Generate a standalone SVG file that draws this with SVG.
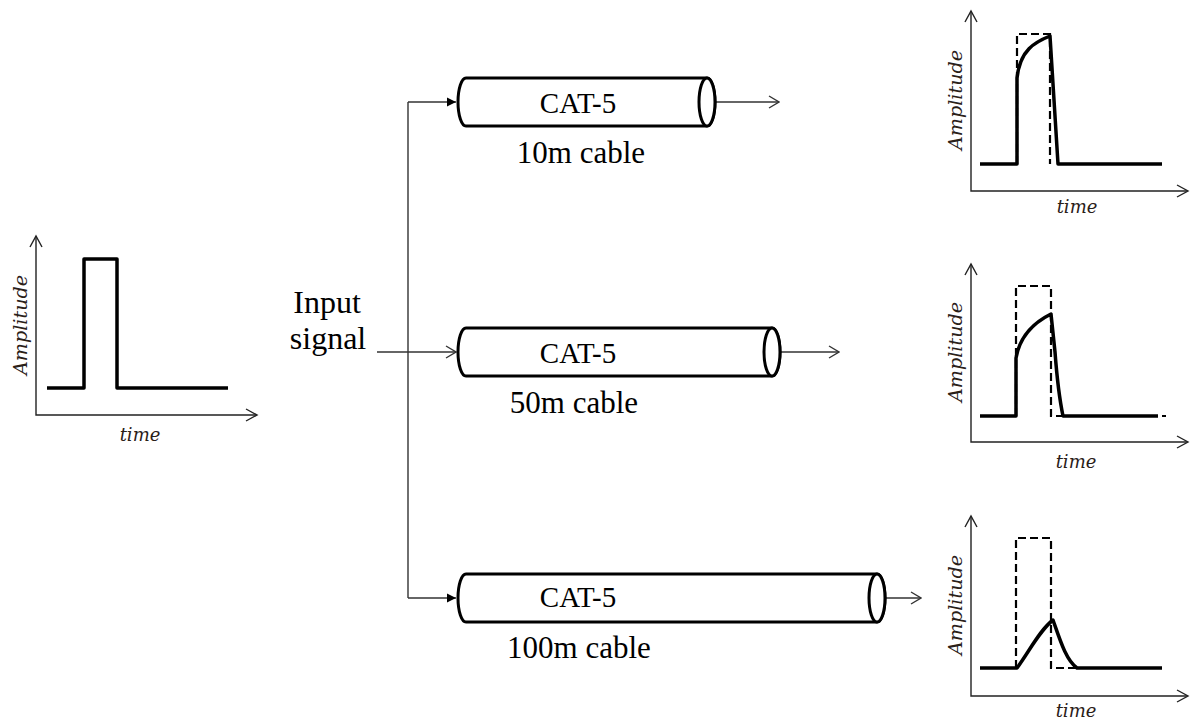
<svg xmlns="http://www.w3.org/2000/svg" width="1191" height="724" viewBox="0 0 1191 724">
<defs>
<style>
.axis{fill:none;stroke:#222;stroke-width:1.4}
.sig{fill:none;stroke:#000;stroke-width:3.5;stroke-linejoin:round}
.dash{fill:none;stroke:#000;stroke-width:2.2;stroke-dasharray:8 4}
.cable{fill:#fff;stroke:#000;stroke-width:3}
.conn{fill:none;stroke:#333;stroke-width:1.4}
.lbl{font-family:"Liberation Serif","Times New Roman",serif;fill:#000}
.ax{font-family:"DejaVu Serif","Liberation Serif",serif;font-style:italic;font-size:18px;fill:#2a2018}
</style>
<marker id="open" markerWidth="12" markerHeight="14" refX="11" refY="7" orient="auto" markerUnits="userSpaceOnUse">
<path d="M1,1 L11,7 L1,13" fill="none" stroke="#333" stroke-width="1.4"/>
</marker>
<marker id="fill" markerWidth="10" markerHeight="10" refX="9" refY="5" orient="auto" markerUnits="userSpaceOnUse">
<path d="M0,0.5 L9,5 L0,9.5 Z" fill="#000"/>
</marker>
</defs>
<rect width="1191" height="724" fill="#fff"/>

<g id="input-plot">
<path class="axis" d="M36,236 L36,415 L256,415"/>
<path class="axis" d="M30,247 L36,236 L42,247"/>
<path class="axis" d="M246,409 L257,415 L246,421"/>
<path class="sig" d="M47,388 L84,388 L84,259 L117,259 L117,388 L228,388"/>
<text class="ax" transform="translate(27,325) rotate(-90)" text-anchor="middle" textLength="100" lengthAdjust="spacingAndGlyphs">Amplitude</text>
<text class="ax" x="140" y="441" text-anchor="middle">time</text>
</g>

<g id="input-label">
<text class="lbl" x="327" y="313" font-size="32" text-anchor="middle">Input</text>
<text class="lbl" x="328" y="349" font-size="32" text-anchor="middle">signal</text>
</g>

<g id="connectors">
<path class="conn" d="M408,102 L408,598"/>
<path class="conn" d="M408,102 L456,102" marker-end="url(#fill)"/>
<path class="conn" d="M408,598 L456,598" marker-end="url(#fill)"/>
<path class="conn" d="M377,352 L456,352" marker-end="url(#open)"/>
<path class="conn" d="M715,102 L779,102" marker-end="url(#open)"/>
<path class="conn" d="M780,352 L839,352" marker-end="url(#open)"/>
<path class="conn" d="M885,598 L921,598" marker-end="url(#open)"/>
</g>

<g id="cable-10m">
<path class="cable" d="M466,78 L707,78 A8,24 0 0 1 707,126 L466,126 A8,24 0 0 1 466,78 Z"/>
<ellipse class="cable" cx="707" cy="102" rx="8" ry="24"/>
<text class="lbl" x="578" y="113" font-size="29" text-anchor="middle">CAT-5</text>
<text class="lbl" x="581" y="163" font-size="31" text-anchor="middle">10m cable</text>
</g>

<g id="cable-50m">
<path class="cable" d="M466,328 L772,328 A8,24 0 0 1 772,376 L466,376 A8,24 0 0 1 466,328 Z"/>
<ellipse class="cable" cx="772" cy="352" rx="8" ry="24"/>
<text class="lbl" x="578" y="363" font-size="29" text-anchor="middle">CAT-5</text>
<text class="lbl" x="574" y="413" font-size="31" text-anchor="middle">50m cable</text>
</g>

<g id="cable-100m">
<path class="cable" d="M466,574 L877,574 A8,24 0 0 1 877,622 L466,622 A8,24 0 0 1 466,574 Z"/>
<ellipse class="cable" cx="877" cy="598" rx="8" ry="24"/>
<text class="lbl" x="578" y="607" font-size="29" text-anchor="middle">CAT-5</text>
<text class="lbl" x="579" y="658" font-size="31" text-anchor="middle">100m cable</text>
</g>

<g id="output-10m">
<path class="axis" d="M971,11 L971,191 L1187,191"/>
<path class="axis" d="M965,22 L971,11 L977,22"/>
<path class="axis" d="M1177,185 L1188,191 L1177,197"/>
<path class="dash" d="M1017,164 L1017,34 L1050,34 L1050,164"/>
<path class="sig" d="M980,164 L1017,164 L1017,78 C1020,50 1035,42 1050,36 L1058,164 L1162,164"/>
<text class="ax" transform="translate(962,100) rotate(-90)" text-anchor="middle" textLength="100" lengthAdjust="spacingAndGlyphs">Amplitude</text>
<text class="ax" x="1077" y="213" text-anchor="middle">time</text>
</g>

<g id="output-50m">
<path class="axis" d="M971,264 L971,442 L1187,442"/>
<path class="axis" d="M965,275 L971,264 L977,275"/>
<path class="axis" d="M1177,436 L1188,442 L1177,448"/>
<path class="dash" d="M1016,416 L1016,286 L1051,286 L1051,416 L1064,416"/>
<path class="dash" d="M1150,416 L1166,416"/>
<path class="sig" d="M980,416 L1016,416 L1016,358 C1020,335 1035,322 1051,314 L1055,352 Q1058,392 1063,416 L1158,416"/>
<text class="ax" transform="translate(962,352) rotate(-90)" text-anchor="middle" textLength="100" lengthAdjust="spacingAndGlyphs">Amplitude</text>
<text class="ax" x="1076" y="468" text-anchor="middle">time</text>
</g>

<g id="output-100m">
<path class="axis" d="M971,516 L971,696 L1187,696"/>
<path class="axis" d="M965,527 L971,516 L977,527"/>
<path class="axis" d="M1177,690 L1188,696 L1177,702"/>
<path class="dash" d="M1016,668 L1016,538 L1051,538 L1051,668 L1162,668"/>
<path class="sig" d="M980,668 L1017,668 C1030,650 1040,630 1053,620 C1060,640 1066,660 1077,668 L1162,668"/>
<text class="ax" transform="translate(962,605) rotate(-90)" text-anchor="middle" textLength="100" lengthAdjust="spacingAndGlyphs">Amplitude</text>
<text class="ax" x="1076" y="717" text-anchor="middle">time</text>
</g>
</svg>
